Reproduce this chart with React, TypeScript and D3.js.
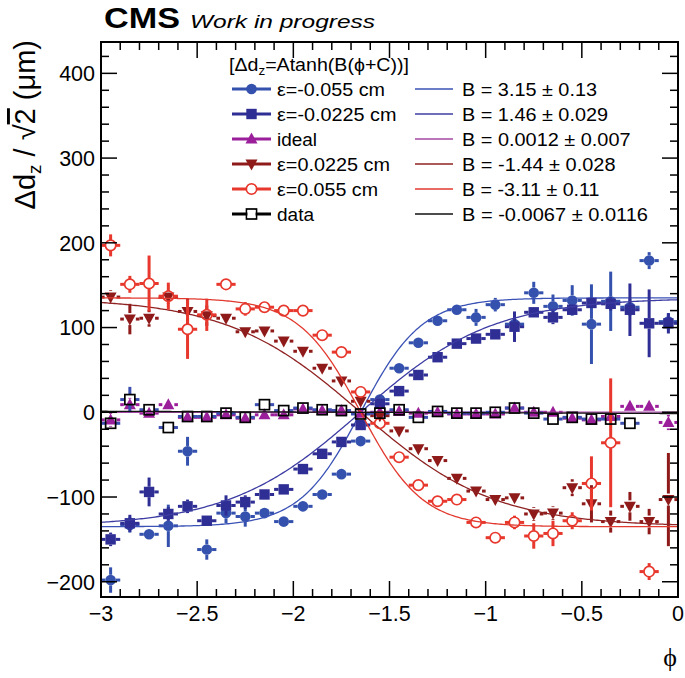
import React from "react";
import * as d3 from "d3";

const PHI = [-2.95, -2.85, -2.75, -2.65, -2.55, -2.45, -2.35, -2.25, -2.15, -2.05, -1.95, -1.85, -1.75, -1.65, -1.55, -1.45, -1.35, -1.25, -1.15, -1.05, -0.95, -0.85, -0.75, -0.65, -0.55, -0.45, -0.35, -0.25, -0.15, -0.05];

const EPS_M055 = [-198, -133, -144, -134, -46, -162, -119, -123, -119, -129, -111, -97, -73, -34, 15, 52, 82, 108, 121, 112, 127, 104, 141, 125, 132, 104, 131, 124, 179, 107];
const EPS_M055_ERR = [15, 9, 5, 25, 17, 12, 12, 12, 6, 5, 5, 5, 5, 5, 5, 5, 5, 5, 5, 10, 8, 10, 13, 14, 18, 47, 35, 10, 10, 10];

const EPS_M0225 = [-150, -131, -94, -120, -111, -128, -110, -106, -97, -91, -67, -49, -35, -15, 10, 25, 44, 65, 81, 87, 92, 101, 118, 112, 121, 129, 128, 121, 105, 105];
const EPS_M0225_ERR = [8, 10, 17, 8, 8, 5, 12, 8, 6, 5, 5, 5, 5, 5, 5, 5, 5, 5, 5, 5, 5, 18, 5, 8, 6, 6, 8, 31, 40, 12];

const IDEAL = [-9, 9, -1, 9, -6, -6, -3, -7, -3, -3, 4, 2, 2, -1, 0, 1, -1, 0, -2, -2, -2, 5, 0, 0, -7, -9, -5, 7, 7, -12];
const IDEAL_ERR = [8, 8, 4, 5, 4, 4, 4, 4, 4, 4, 4, 4, 4, 4, 4, 4, 4, 4, 4, 4, 4, 6, 4, 4, 4, 4, 4, 6, 6, 9];

const EPS_P0225 = [136, 110, 111, 136, 119, 114, 111, 95, 96, 84, 72, 52, 37, 13, -4, -22, -43, -57, -78, -93, -103, -101, -120, -119, -89, -108, -129, -111, -129, -103];
const EPS_P0225_ERR = [8, 18, 10, 8, 15, 12, 5, 5, 5, 5, 5, 5, 5, 5, 5, 5, 5, 5, 5, 5, 5, 5, 8, 8, 10, 22, 13, 17, 15, 55];

const EPS_P055: (number | null)[] = [197, 151, 152, 137, 98, 115, 151, 122, 124, 120, 120, 91, 71, 24, -13, -53, -86, -105, -103, -130, -148, -130, -146, -143, -128, -84, -36, null, -188, null];
const EPS_P055_ERR = [13, 10, 33, 16, 35, 19, 5, 8, 6, 5, 5, 5, 5, 7, 5, 5, 6, 5, 5, 5, 5, 8, 15, 15, 10, 32, 76, 0, 10, 0];

const DATA: (number | null)[] = [-13, 15, 3, -18, -5, -5, -1, -6, 9, 2, 5, 3, 2, -2, -1, 3, -6, 1, -1, -1, 0, 5, -1, -8, -6, -8, -8, -13, null, null];
const DATA_ERR = [5, 15, 5, 4, 4, 4, 4, 4, 5, 4, 4, 4, 4, 4, 4, 4, 4, 4, 4, 4, 4, 4, 4, 4, 4, 4, 4, 4, 0, 0];

const SERIES_LABELS = ["ε=-0.055 cm", "ε=-0.0225 cm", "ideal", "ε=0.0225 cm", "ε=0.055 cm", "data"];
const FIT_LABELS = ["B = 3.15 ± 0.13", "B = 1.46 ± 0.029", "B = 0.0012 ± 0.007", "B = -1.44 ± 0.028", "B = -3.11 ± 0.11", "B = -0.0067 ± 0.0116"];
const FIT_A = [135, 135, 135, 135, 135, 135];
const FIT_B = [3.15, 1.46, 0.0012, -1.44, -3.11, -0.0067];
const FIT_C = [1.65, 1.65, 1.65, 1.65, 1.65, 1.65];

const X_TICKS = [-3, -2.5, -2, -1.5, -1, -0.5, 0];
const X_TICK_LABELS = ["−3", "−2.5", "−2", "−1.5", "−1", "−0.5", "0"];
const Y_TICKS = [-200, -100, 0, 100, 200, 300, 400];
const Y_TICK_LABELS = ["−200", "−100", "0", "100", "200", "300", "400"];

const VALUES = [EPS_M055, EPS_M0225, IDEAL, EPS_P0225, EPS_P055, DATA];
const ERRORS = [EPS_M055_ERR, EPS_M0225_ERR, IDEAL_ERR, EPS_P0225_ERR, EPS_P055_ERR, DATA_ERR];

// layout: rendered widths of legend texts (px)
const LEGEND_LEFT_WIDTHS = [108, 119.5, 40, 113, 101, 37];
const LEGEND_RIGHT_WIDTHS = [135, 146, 168.5, 153.5, 137.5, 186];

type Kind = "circle" | "square" | "triUp" | "triDown";
const STYLES: { color: string; kind: Kind; filled: boolean; err: string; fit: string; legendLine: string }[] = [
  { color: "#3451ad", kind: "circle", filled: true, err: "#3451ad", fit: "#3a52b5", legendLine: "#3451ad" },
  { color: "#2e2e94", kind: "square", filled: true, err: "#2e2e94", fit: "#3c3ca3", legendLine: "#2e2e94" },
  { color: "#9b1f9b", kind: "triUp", filled: true, err: "#9b1f9b", fit: "#a447a4", legendLine: "#9b1f9b" },
  { color: "#8f1a1a", kind: "triDown", filled: true, err: "#8f1a1a", fit: "#8f2222", legendLine: "#8f1a1a" },
  { color: "#e8372c", kind: "circle", filled: false, err: "#e8372c", fit: "#e23a2f", legendLine: "#e8372c" },
  { color: "#000000", kind: "square", filled: false, err: "#3a4fb0", fit: "#111111", legendLine: "#000000" },
];

const PLOT = { left: 101, right: 678, top: 42, bottom: 597 };
const FONT = "'Liberation Sans', Arial, Helvetica, sans-serif";

const xs = d3.scaleLinear().domain([-3, 0]).range([PLOT.left, PLOT.right]);
const ys = d3.scaleLinear().domain([-218, 437]).range([PLOT.bottom, PLOT.top]);

function Marker({ x, y, kind, color, filled }: { x: number; y: number; kind: Kind; color: string; filled: boolean }) {
  const fill = filled ? color : "none";
  const sw = filled ? 0 : 1.7;
  if (kind === "circle") return <circle cx={x} cy={y} r={filled ? 5.3 : 5.2} fill={fill} stroke={color} strokeWidth={sw} />;
  if (kind === "square") {
    const s = filled ? 5.2 : 5;
    return <rect x={x - s} y={y - s} width={2 * s} height={2 * s} fill={fill} stroke={color} strokeWidth={sw} />;
  }
  if (kind === "triUp") return <path d={`M${x},${y - 6.5}L${x + 6},${y + 4.5}L${x - 6},${y + 4.5}Z`} fill={fill} />;
  return <path d={`M${x},${y + 6.5}L${x + 6},${y - 4.5}L${x - 6},${y - 4.5}Z`} fill={fill} />;
}

function Series({ idx }: { idx: number }) {
  const st = STYLES[idx];
  const vals = VALUES[idx];
  const errs = ERRORS[idx];
  const r = st.kind === "circle" ? 5.3 : st.kind === "square" ? 5.2 : 6;
  const bars: JSX.Element[] = [];
  const marks: JSX.Element[] = [];
  PHI.forEach((p, i) => {
    const v = vals[i];
    if (v === null || v === undefined) return;
    const x = xs(p);
    const y = ys(v);
    const hw = xs(p + 0.05) - x;
    const ep = ys(v - errs[i]) - y;
    const segs: [number, number, number, number][] = [];
    if (hw > r) {
      segs.push([x - hw, y, x - r, y]);
      segs.push([x + r, y, x + hw, y]);
    }
    if (ep > r) {
      segs.push([x, y - ep, x, y - r]);
      segs.push([x, y + r, x, y + ep]);
    }
    segs.forEach((s, k) =>
      bars.push(<line key={`b${i}-${k}`} x1={s[0]} y1={s[1]} x2={s[2]} y2={s[3]} stroke={st.err} strokeWidth={3} />)
    );
    marks.push(<Marker key={`m${i}`} x={x} y={y} kind={st.kind} color={st.color} filled={st.filled} />);
  });
  const grid = d3.range(0, 301).map((k) => -3 + (3 * k) / 300);
  const line = d3
    .line<number>()
    .x((p) => xs(p))
    .y((p) => ys(FIT_A[idx] * Math.tanh(FIT_B[idx] * (p + FIT_C[idx]))));
  return (
    <g>
      {bars}
      {marks}
      <path d={line(grid) || ""} fill="none" stroke={st.fit} strokeWidth={1.3} />
    </g>
  );
}

export default function App() {
  const xMinor = d3.range(-3, 0.0001, 0.1);
  const yMinor = d3.range(-200, 437, 20);
  const majorLen = 16;
  const minorLen = 8;
  const tickLines: JSX.Element[] = [];
  xMinor.forEach((t, i) => {
    const isMajor = X_TICKS.some((m) => Math.abs(m - t) < 1e-6);
    const L = isMajor ? majorLen : minorLen;
    const x = xs(t);
    tickLines.push(<line key={`xb${i}`} x1={x} x2={x} y1={PLOT.bottom} y2={PLOT.bottom - L} stroke="#000" strokeWidth={1.5} />);
    tickLines.push(<line key={`xt${i}`} x1={x} x2={x} y1={PLOT.top} y2={PLOT.top + L} stroke="#000" strokeWidth={1.5} />);
  });
  yMinor.forEach((t, i) => {
    const isMajor = Y_TICKS.includes(t);
    const L = isMajor ? majorLen : minorLen;
    const y = ys(t);
    tickLines.push(<line key={`yl${i}`} x1={PLOT.left} x2={PLOT.left + L} y1={y} y2={y} stroke="#000" strokeWidth={1.5} />);
    tickLines.push(<line key={`yr${i}`} x1={PLOT.right} x2={PLOT.right - L} y1={y} y2={y} stroke="#000" strokeWidth={1.5} />);
  });

  const legendRowY = (i: number) => 89 + 25 * i;

  return (
    <svg width={685} height={678} style={{ position: "absolute", left: 0, top: 0, background: "#fff" }} fontFamily={FONT}>
      <rect x={0} y={0} width={685} height={678} fill="#fff" />
      {/* header */}
      <text x={104} y={28} fontSize={29} fontWeight="bold" textLength={76} lengthAdjust="spacingAndGlyphs">CMS</text>
      <text x={190} y={28} fontSize={19} fontStyle="italic" textLength={185} lengthAdjust="spacingAndGlyphs">Work in progress</text>

      {/* series */}
      <defs>
        <clipPath id="plotclip">
          <rect x={PLOT.left} y={PLOT.top} width={PLOT.right - PLOT.left} height={PLOT.bottom - PLOT.top} />
        </clipPath>
      </defs>
      <g clipPath="url(#plotclip)">
        {STYLES.map((_, i) => (
          <Series key={i} idx={i} />
        ))}
      </g>

      {/* frame & ticks */}
      {tickLines}
      <rect x={PLOT.left} y={PLOT.top} width={PLOT.right - PLOT.left} height={PLOT.bottom - PLOT.top} fill="none" stroke="#000" strokeWidth={2} />

      {/* tick labels */}
      {X_TICKS.map((t, i) => (
        <text key={`xl${i}`} x={xs(t)} y={621} fontSize={21.5} textAnchor="middle">{X_TICK_LABELS[i]}</text>
      ))}
      {Y_TICKS.map((t, i) => (
        <text key={`yl${i}`} x={95} y={ys(t) + 7.8} fontSize={21.5} textAnchor="end">{Y_TICK_LABELS[i]}</text>
      ))}

      {/* axis titles */}
      <text x={677} y={666} fontSize={26} textAnchor="end" fontFamily="'Liberation Serif', 'DejaVu Serif', serif">ϕ</text>
      <text transform="translate(35,40) rotate(-90)" fontSize={29} textAnchor="end">
        Δd<tspan dy={6} fontSize={19}>z</tspan>
        <tspan dy={-6}> / √</tspan>
        <tspan textDecoration="overline">2</tspan>
        <tspan> (μm)</tspan>
      </text>

      {/* legend */}
      <text x={229} y={71} fontSize={17.5} textLength={180} lengthAdjust="spacingAndGlyphs">
        [Δd<tspan dy={4} fontSize={12}>z</tspan>
        <tspan dy={-4}>=Atanh(B(ϕ+C))]</tspan>
      </text>
      {STYLES.map((st, i) => {
        const y = legendRowY(i);
        return (
          <g key={`lg${i}`}>
            <line x1={232} x2={271} y1={y} y2={y} stroke={st.legendLine} strokeWidth={3} />
            <Marker x={251.5} y={y} kind={st.kind} color={st.color} filled={st.filled} />
            {!st.filled && st.kind === "circle" && <circle cx={251.5} cy={y} r={4.3} fill="#fff" />}
            {!st.filled && st.kind === "square" && <rect x={247.5} y={y - 4} width={8} height={8} fill="#fff" />}
            <text x={277} y={y + 6.5} fontSize={17.5} textLength={LEGEND_LEFT_WIDTHS[i]} lengthAdjust="spacingAndGlyphs">{SERIES_LABELS[i]}</text>
            <line x1={415} x2={453} y1={y} y2={y} stroke={st.fit} strokeWidth={1.3} />
            <text x={462} y={y + 6.5} fontSize={17.5} textLength={LEGEND_RIGHT_WIDTHS[i]} lengthAdjust="spacingAndGlyphs">{FIT_LABELS[i]}</text>
          </g>
        );
      })}
    </svg>
  );
}
